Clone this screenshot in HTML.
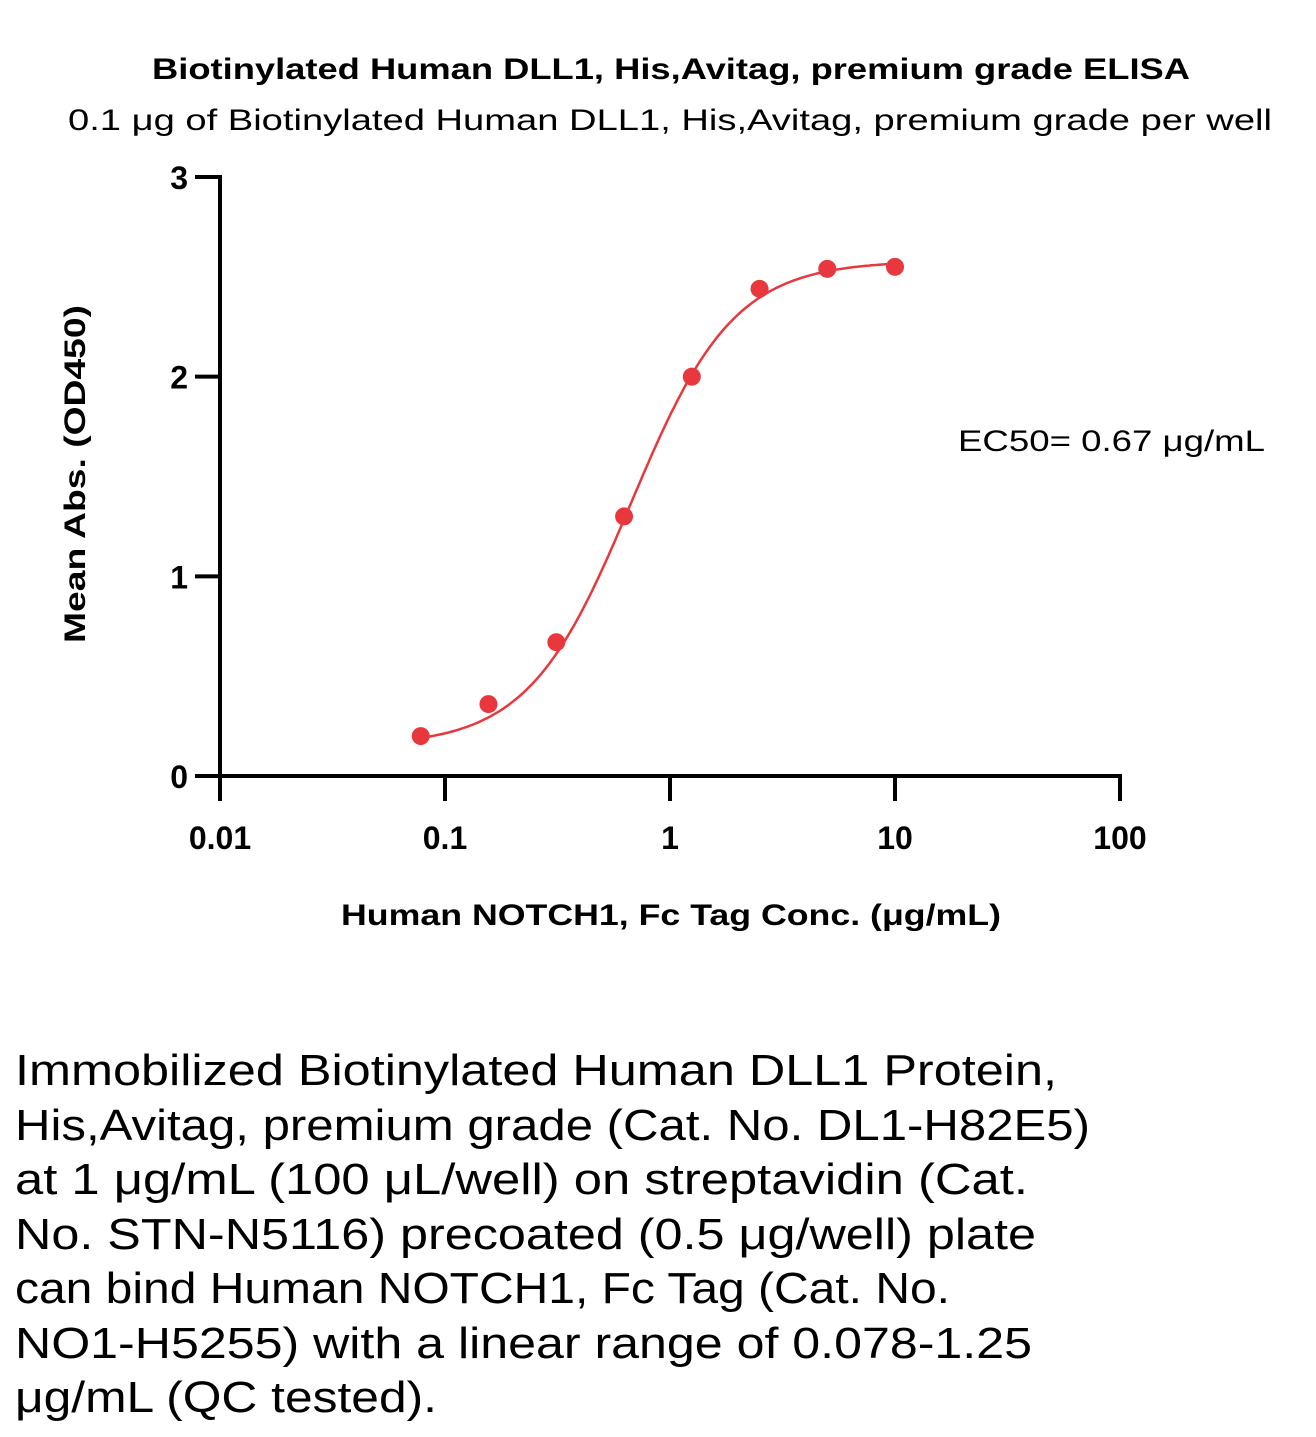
<!DOCTYPE html>
<html><head><meta charset="utf-8"><style>
html,body{margin:0;padding:0;background:#fff;}
svg{display:block;font-family:"Liberation Sans",sans-serif;}
</style></head><body>
<svg id="chart" width="1316" height="1437" viewBox="0 0 1316 1437">
<text x="671" y="79" text-anchor="middle" font-size="30" font-weight="bold" textLength="1038" lengthAdjust="spacingAndGlyphs">Biotinylated Human DLL1, His,Avitag, premium grade ELISA</text>
<text x="670" y="130" text-anchor="middle" font-size="30" textLength="1204" lengthAdjust="spacingAndGlyphs">0.1 μg of Biotinylated Human DLL1, His,Avitag, premium grade per well</text>
<g id="axes"></g>
<g id="marks"></g>
<text x="0" y="0" transform="translate(85,474) rotate(-90)" text-anchor="middle" font-size="30" font-weight="bold" textLength="338" lengthAdjust="spacingAndGlyphs">Mean Abs. (OD450)</text>
<text x="671" y="925" text-anchor="middle" font-size="30" font-weight="bold" textLength="660" lengthAdjust="spacingAndGlyphs">Human NOTCH1, Fc Tag Conc. (μg/mL)</text>
<text x="958" y="451" font-size="30" textLength="307" lengthAdjust="spacingAndGlyphs">EC50= 0.67 μg/mL</text>
<g font-size="44">
<text x="15" y="1085" textLength="1042" lengthAdjust="spacingAndGlyphs">Immobilized Biotinylated Human DLL1 Protein,</text>
<text x="15" y="1140" textLength="1075" lengthAdjust="spacingAndGlyphs">His,Avitag, premium grade (Cat. No. DL1-H82E5)</text>
<text x="15" y="1194" textLength="1013" lengthAdjust="spacingAndGlyphs">at 1 μg/mL (100 μL/well) on streptavidin (Cat.</text>
<text x="15" y="1249" textLength="1021" lengthAdjust="spacingAndGlyphs">No. STN-N5116) precoated (0.5 μg/well) plate</text>
<text x="15" y="1303" textLength="935" lengthAdjust="spacingAndGlyphs">can bind Human NOTCH1, Fc Tag (Cat. No.</text>
<text x="15" y="1358" textLength="1017" lengthAdjust="spacingAndGlyphs">NO1-H5255) with a linear range of 0.078-1.25</text>
<text x="15" y="1412" textLength="422" lengthAdjust="spacingAndGlyphs">μg/mL (QC tested).</text>
</g>
</svg>
<script>
const concentrations = [0.078, 0.156, 0.3125, 0.625, 1.25, 2.5, 5, 10];
const absorbances = [0.20, 0.36, 0.67, 1.30, 2.00, 2.44, 2.54, 2.55];
const xTicks = [0.01, 0.1, 1, 10, 100];
const xTickLabels = ["0.01", "0.1", "1", "10", "100"];
const yTicks = [0, 1, 2, 3];
const yTickLabels = ["0", "1", "2", "3"];
const fitParams = [0.15, 2.58, 0.67, 1.9]; // bottom, top, EC50, hill

const NS = "http://www.w3.org/2000/svg";
const X0 = 220, X1 = 1120, Y0 = 776, Y1 = 177;
function xs(v){ return X0 + (Math.log10(v) + 2) / 4 * (X1 - X0); }
function ys(v){ return Y0 - v / 3 * (Y0 - Y1); }
function mk(tag, attrs, parent){ const e = document.createElementNS(NS, tag); for (const k in attrs) e.setAttribute(k, attrs[k]); parent.appendChild(e); return e; }
const axes = document.getElementById('axes');
const marks = document.getElementById('marks');

let l = mk('line', {x1:X0, y1:Y1-2, x2:X0, y2:Y0+2, stroke:'#000', 'stroke-width':4}, axes);


l = mk('line', {x1:X0-2, y1:Y0, x2:X1+2, y2:Y0, stroke:'#000', 'stroke-width':4}, axes);



yTicks.forEach((v, i) => {
  const t = mk('line', {x1:X0-25, y1:ys(v), x2:X0, y2:ys(v), stroke:'#000', 'stroke-width':4}, axes);
  
  
  const tx = mk('text', {x:188, y:ys(v)+12, 'text-anchor':'end', 'font-size':32, 'font-weight':'bold'}, axes);
  tx.textContent = yTickLabels[i];
  
  
});
xTicks.forEach((v, i) => {
  const t = mk('line', {x1:xs(v), y1:Y0, x2:xs(v), y2:Y0+25, stroke:'#000', 'stroke-width':4}, axes);
  
  
  const tx = mk('text', {x:xs(v), y:849, 'text-anchor':'middle', 'font-size':32, 'font-weight':'bold'}, axes);
  tx.textContent = xTickLabels[i];
  
  
});

function fit(c){ const [b,t,e,h] = fitParams; return b + (t - b) / (1 + Math.pow(e / c, h)); }
let d = '';
const lo = Math.log10(concentrations[0]), hi = Math.log10(concentrations[concentrations.length-1]);
for (let i = 0; i <= 200; i++) {
  const c = Math.pow(10, lo + (hi - lo) * i / 200);
  d += (i ? 'L' : 'M') + xs(c).toFixed(1) + ',' + ys(fit(c)).toFixed(1);
}
const curve = mk('path', {d:d, fill:'none', stroke:'#e8383d', 'stroke-width':2.5}, marks);


concentrations.forEach((c, i) => {
  const p = mk('circle', {cx:xs(c), cy:ys(absorbances[i]), r:9, fill:'#e8383d'}, marks);
  
  
});
</script>
</body></html>
